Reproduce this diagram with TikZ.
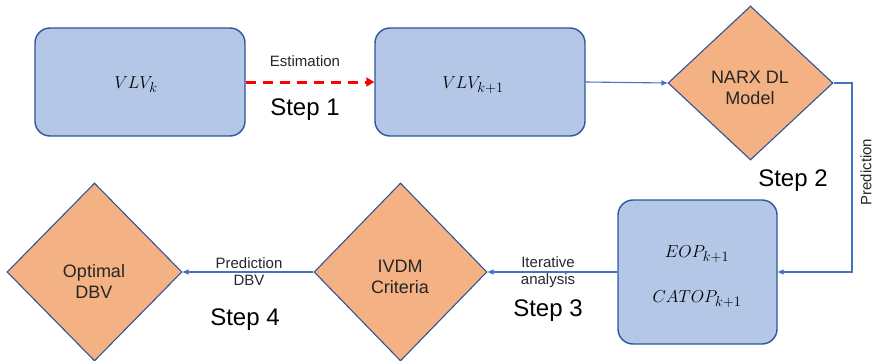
\documentclass[tikz,border=0pt]{standalone}
\usepackage{fontspec}
\setmainfont{Liberation Sans}
\usetikzlibrary{shapes.geometric,arrows.meta}
\definecolor{boxfill}{HTML}{B4C7E7}
\definecolor{boxline}{HTML}{2F5597}
\definecolor{dfill}{HTML}{F4B183}
\definecolor{arr}{HTML}{4472C4}
\tikzset{
  bluebox/.style={draw=boxline, fill=boxfill, line width=1.4pt, rounded corners=15pt, inner sep=0pt},
  dia/.style={diamond, draw=boxline, fill=dfill, line width=1.1pt, inner sep=0pt, align=center, font=\fontsize{18}{21}\selectfont},
  conn/.style={draw=arr, line width=1.1pt, -{Triangle[length=6pt,width=5pt]}},
  lab/.style={font=\fontsize{15}{17}\selectfont, align=center, text=black!85, inner sep=0pt},
  steplab/.style={font=\fontsize{24}{26}\selectfont, inner sep=0pt},
  mathlab/.style={font=\fontsize{19}{22}\selectfont, inner sep=0pt}
}
\begin{document}
\begin{tikzpicture}[x=1pt,y=-1pt]
\useasboundingbox (0,0) rectangle (875,361);
% boxes
\node[bluebox, minimum width=210pt, minimum height=108pt] (b1) at (140,82) {};
\node[mathlab] at (136,85) {$VLV_k$};
\node[bluebox, minimum width=210pt, minimum height=108pt] (b2) at (480,82) {};
\node[mathlab] at (473,85) {$VLV_{k+1}$};
\node[bluebox, minimum width=159pt, minimum height=144pt] (b3) at (697.5,272) {};
\node[mathlab] at (697,254) {$EOP_{k+1}$};
\node[mathlab] at (697,299) {$CATOP_{k+1}$};
% diamonds
\node[dia, minimum width=165pt, minimum height=154pt] (narx) at (750.5,83) {};
\node[lab, font=\fontsize{18}{21}\selectfont] at (750,88) {NARX DL\\Model};
\node[dia, minimum width=173pt, minimum height=178pt] (ivdm) at (400.5,272) {};
\node[lab, font=\fontsize{18}{21}\selectfont] at (400,277) {IVDM\\Criteria};
\node[dia, minimum width=175pt, minimum height=178pt] (opt) at (94.5,272) {};
\node[lab, font=\fontsize{18}{21}\selectfont] at (94,281) {Optimal\\DBV};
% connectors
\draw[red, line width=3pt, dash pattern=on 10pt off 7pt, -{Triangle[length=8pt,width=9pt]}] (b1.east) -- (b2.west);
\node[lab] at (305,61) {Estimation};
\node[steplab] at (305,110) {Step 1};
\draw[conn] (b2.east) -- (narx.west);
\coordinate (c1) at (852,83);
\coordinate (c2) at (852,272);
\draw[conn] (narx.east) -- (c1) -- (c2) -- (b3.east);
\node[lab, rotate=90] at (866,172) {Prediction};
\node[steplab] at (793,181) {Step 2};
\draw[conn] (b3.west) -- (ivdm.east);
\node[lab] at (548,272) {Iterative\\analysis};
\node[steplab] at (548,311) {Step 3};
\draw[conn] (ivdm.west) -- (opt.east);
\node[lab] at (249,272) {Prediction\\DBV};
\node[steplab] at (245,320) {Step 4};
\end{tikzpicture}
\end{document}
